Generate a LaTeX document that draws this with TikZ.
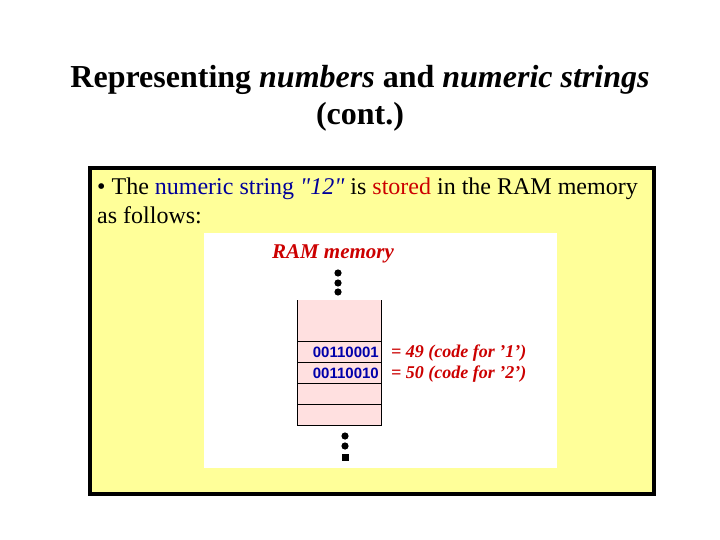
\documentclass[tikz,border=0pt]{standalone}
\usepackage{fontspec}
\setmainfont{Liberation Serif}
\setsansfont{Liberation Sans}
\usetikzlibrary{math}
\definecolor{pyellow}{RGB}{255,255,153}
\definecolor{ppink}{RGB}{255,224,224}
\definecolor{qblue}{RGB}{0,0,153}
\definecolor{qred}{RGB}{204,0,0}
\definecolor{bitblue}{RGB}{0,0,170}

\begin{document}
\begin{tikzpicture}[x=1pt,y=-1pt,
  every node/.style={inner sep=0pt},
  bits/.style={font=\sffamily\bfseries\fontsize{15}{15}\selectfont,color=bitblue,anchor=east},
  code/.style={font=\bfseries\itshape\fontsize{18}{18}\selectfont,color=qred,anchor=west},
  dot/.style={fill=black}]

\tikzmath{
\xl = 297; % memory column
\xr = 381;
\yt = 300;
\yb = 425;
}

\useasboundingbox (0,0) rectangle (720,540);

%title
\node (title) at (360,80) {\fontsize{32}{32}\selectfont\bfseries Representing \textit{numbers} and \textit{numeric strings}};
\node (cont) at (360,117) {\fontsize{32}{32}\selectfont\bfseries (cont.)};

%slide box
\draw[line width=4pt,fill=pyellow] (90,168) rectangle (654,494);
\node[anchor=base west] (line1) at (97,195) {\fontsize{24}{24}\selectfont \textbullet{} The \textcolor{qblue}{numeric string \textit{\textquotedbl 12\textquotedbl}} is \textcolor{qred}{stored} in the RAM memory};
\node[anchor=base west] (line2) at (97,223) {\fontsize{24}{24}\selectfont as follows:};

%picture
\fill[white] (204,233) rectangle (557,468);
\node (ram) at (333,254) {\bfseries\itshape\fontsize{21}{21}\selectfont\textcolor{qred}{RAM memory}};

%dots
\foreach \y in {273,283,292}
  \fill[dot] (338,\y) circle(3.6);
\foreach \y in {436,446}
  \fill[dot] (345,\y) circle(3.6);
\fill[dot] (341.5,453.5) rectangle (348.5,460.5);

%memory
\fill[ppink] (\xl,\yt) rectangle (\xr,\yb);
\draw (\xl,\yt) -- (\xl,\yb) -- (\xr,\yb) -- (\xr,\yt);
\foreach \y in {341,362,383,404}
  \draw (\xl,\y) -- (\xr,\y);

\node[bits] (b1) at (379,352) {00110001};
\node[bits] (b2) at (379,373) {00110010};
\node[code] (c1) at (391,353) {= 49 (code for '1')};
\node[code] (c2) at (391,374) {= 50 (code for '2')};

\end{tikzpicture}
\end{document}
